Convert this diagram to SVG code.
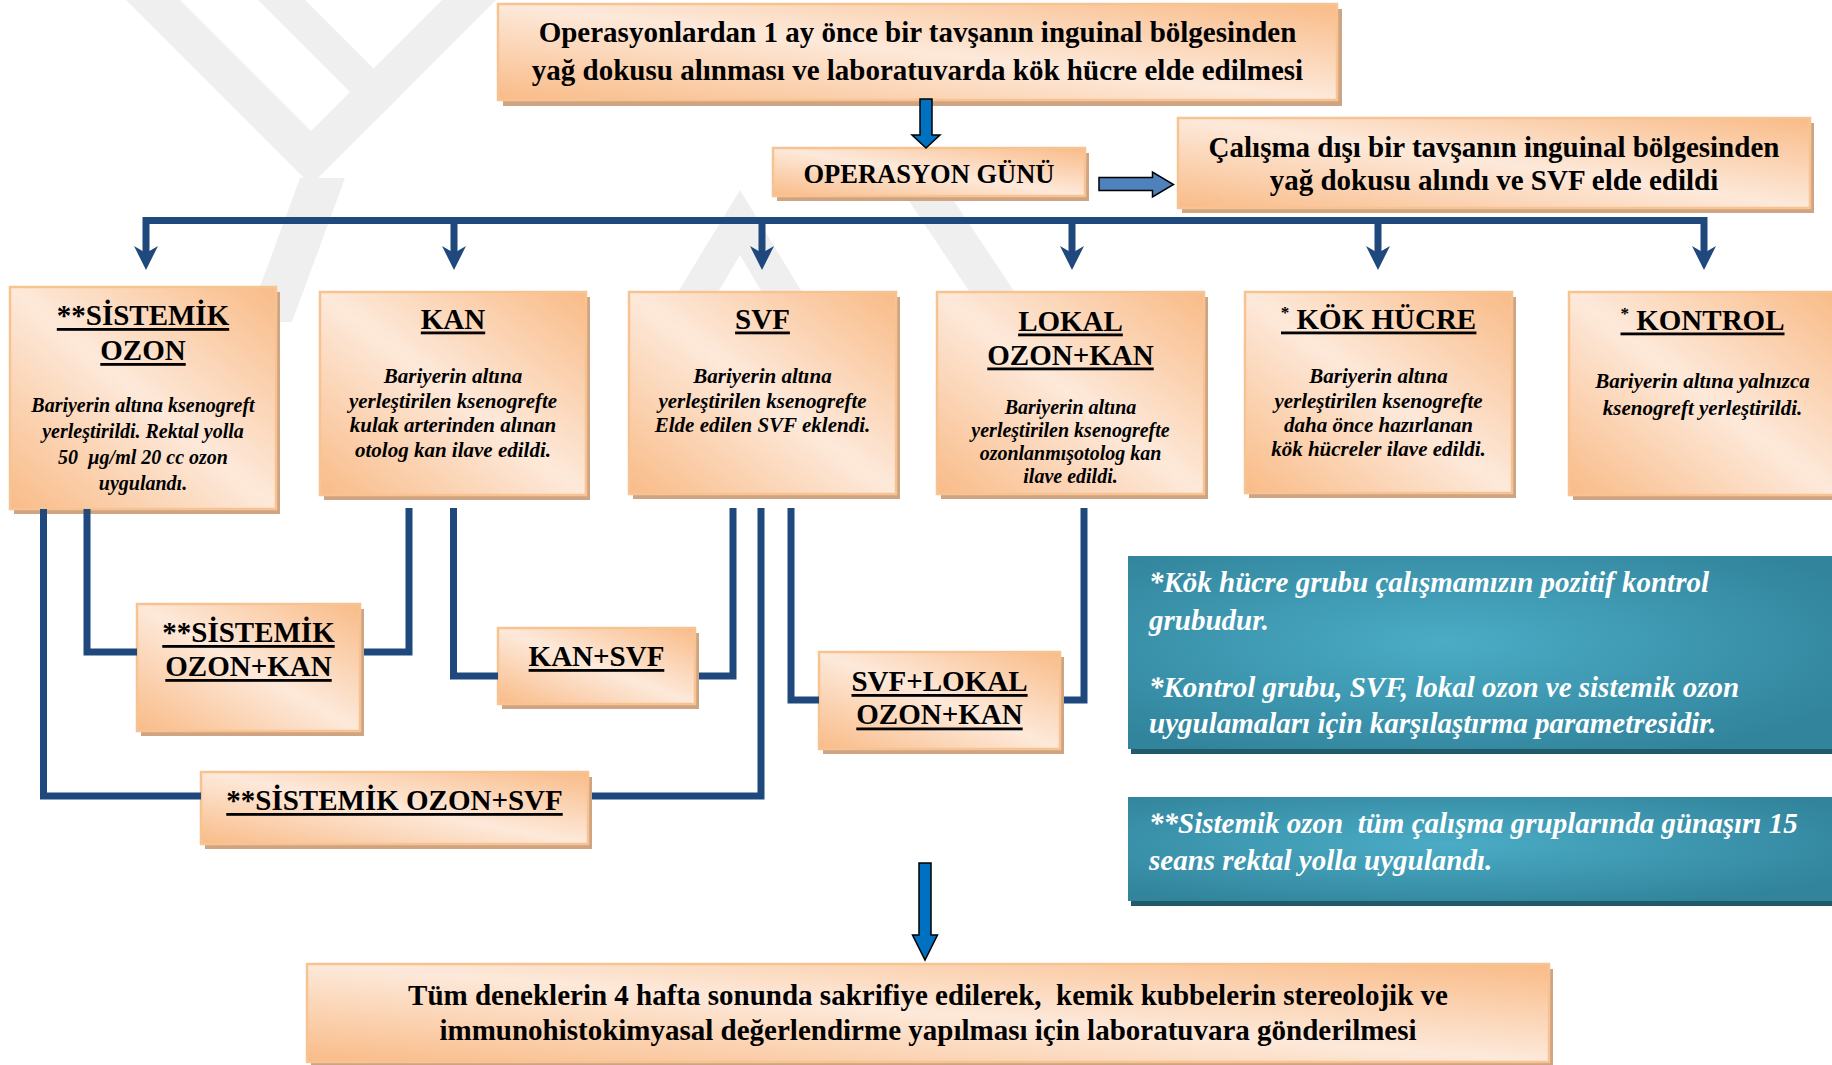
<svg xmlns="http://www.w3.org/2000/svg" width="1832" height="1065" viewBox="0 0 1832 1065">
<defs>
<linearGradient id="og" x1="0" y1="1" x2="1" y2="0">
<stop offset="0" stop-color="#f9bb87"/>
<stop offset="0.5" stop-color="#fde9da"/>
<stop offset="1" stop-color="#f9bb87"/>
</linearGradient>
<radialGradient id="tg" cx="0.45" cy="0.45" r="0.65">
<stop offset="0" stop-color="#4bacc6"/>
<stop offset="1" stop-color="#31849b"/>
</radialGradient>
<style>
.wm{fill:#efefef}
.sh{fill:#cfa482}
.bx{fill:url(#og);stroke:#f8c393;stroke-width:2.5}
.t{font-family:"Liberation Serif","Times New Roman",serif;font-weight:bold;fill:#000}
.h{font-size:29px;text-anchor:middle}
.b{font-style:italic;font-size:21px;text-anchor:middle}
.s20{font-size:20px}
.ul{fill:#000}
.ln{fill:none;stroke:#1f497d;stroke-width:7}
.ah{fill:#1f497d}
.tsh{fill:#215a69}
.tb{fill:url(#tg)}
.nt{font-family:"Liberation Serif","Times New Roman",serif;font-weight:bold;font-style:italic;font-size:29px;fill:#fff}
.ba{stroke:#000;stroke-width:1.5}
</style>
</defs>
<rect x="0" y="0" width="1832" height="1065" fill="#fff"/>

<g id="watermark">
<polygon class="wm" points="126,0 180,0 311,131 442,0 496,0 311,185"/>
<polygon class="wm" points="258,0 305,0 400.5,95.5 377,119"/>
<polygon class="wm" points="300,178 345,178 292,322 247,322"/>
<polygon class="wm" points="740,190 802,292 762,292 740,255 718,292 678,292"/>
<polygon class="wm" points="905,195 950,195 1020,300 975,300"/>
</g>

<g id="n-top">
<rect class="sh" x="503" y="9" width="839" height="97"/>
<rect class="bx" x="498" y="4" width="839" height="96"/>
<text class="t h" x="917.5" y="42">Operasyonlardan 1 ay önce bir tavşanın inguinal bölgesinden</text>
<text class="t h" x="917.5" y="80">yağ dokusu alınması ve laboratuvarda kök hücre elde edilmesi</text>
</g>

<g id="n-opday">
<rect class="sh" x="777" y="153" width="312" height="48"/>
<rect class="bx" x="773" y="148" width="312" height="48"/>
<text class="t" x="929" y="183" font-size="26.5" text-anchor="middle">OPERASYON GÜNÜ</text>
</g>

<g id="n-svfsrc">
<rect class="sh" x="1182" y="123" width="632" height="90"/>
<rect class="bx" x="1178" y="118" width="632" height="90"/>
<text class="t h" x="1494" y="157">Çalışma dışı bir tavşanın inguinal bölgesinden</text>
<text class="t h" x="1494" y="190">yağ dokusu alındı ve SVF elde edildi</text>
</g>

<g id="n-sistemik">
<rect class="sh" x="14" y="292" width="266" height="222"/>
<rect class="bx" x="10" y="287" width="266" height="222"/>
<text class="t h" x="143" y="325">**SİSTEMİK</text>
<rect class="ul" x="56.8" y="328" width="172.4" height="2.8"/>
<text class="t h" x="143" y="360">OZON</text>
<rect class="ul" x="100.3" y="363" width="85.4" height="2.8"/>
<text class="t b s20" x="143" y="412">Bariyerin altına ksenogreft</text>
<text class="t b s20" x="143" y="438">yerleştirildi. Rektal yolla</text>
<text class="t b s20" x="143" y="464" xml:space="preserve">50  µg/ml 20 cc ozon</text>
<text class="t b s20" x="143" y="490">uygulandı.</text>
</g>

<g id="n-kan">
<rect class="sh" x="324" y="297" width="266" height="203"/>
<rect class="bx" x="320" y="292" width="266" height="203"/>
<text class="t h" x="453" y="329">KAN</text>
<rect class="ul" x="420.8" y="331.5" width="64.4" height="2.8"/>
<text class="t b" x="453" y="383">Bariyerin altına</text>
<text class="t b" x="453" y="408">yerleştirilen ksenogrefte</text>
<text class="t b" x="453" y="432">kulak arterinden alınan</text>
<text class="t b" x="453" y="457">otolog kan ilave edildi.</text>
</g>

<g id="n-svf">
<rect class="sh" x="633" y="297" width="267" height="202"/>
<rect class="bx" x="629" y="292" width="267" height="202"/>
<text class="t h" x="762.5" y="329">SVF</text>
<rect class="ul" x="735.1" y="331.5" width="54.8" height="2.8"/>
<text class="t b" x="762.5" y="383">Bariyerin altına</text>
<text class="t b" x="762.5" y="408">yerleştirilen ksenogrefte</text>
<text class="t b" x="762.5" y="432">Elde edilen SVF eklendi.</text>
</g>

<g id="n-lokal">
<rect class="sh" x="941" y="297" width="267" height="202"/>
<rect class="bx" x="937" y="292" width="267" height="202"/>
<text class="t h" x="1070.5" y="331">LOKAL</text>
<rect class="ul" x="1018.1" y="333.5" width="104.7" height="2.8"/>
<text class="t h" x="1070.5" y="365">OZON+KAN</text>
<rect class="ul" x="987.3" y="367.5" width="166.4" height="2.8"/>
<text class="t b s20" x="1070.5" y="414">Bariyerin altına</text>
<text class="t b s20" x="1070.5" y="437">yerleştirilen ksenogrefte</text>
<text class="t b s20" x="1070.5" y="460">ozonlanmışotolog kan</text>
<text class="t b s20" x="1070.5" y="483">ilave edildi.</text>
</g>

<g id="n-kok">
<rect class="sh" x="1249" y="297" width="267" height="201"/>
<rect class="bx" x="1245" y="292" width="267" height="201"/>
<text class="t h" x="1378.5" y="329"><tspan font-size="17" dy="-11">*</tspan><tspan dy="11"> KÖK HÜCRE</tspan></text>
<rect class="ul" x="1281" y="331.5" width="195.4" height="2.8"/>
<text class="t b" x="1378.5" y="383">Bariyerin altına</text>
<text class="t b" x="1378.5" y="408">yerleştirilen ksenogrefte</text>
<text class="t b" x="1378.5" y="432">daha önce hazırlanan</text>
<text class="t b" x="1378.5" y="456">kök hücreler ilave edildi.</text>
</g>

<g id="n-kontrol">
<rect class="sh" x="1573" y="297" width="267" height="203"/>
<rect class="bx" x="1569" y="292" width="267" height="203"/>
<text class="t h" x="1702.5" y="330"><tspan font-size="17" dy="-11">*</tspan><tspan dy="11"> KONTROL</tspan></text>
<rect class="ul" x="1620.5" y="332.5" width="164" height="2.8"/>
<text class="t b" x="1702.5" y="388">Bariyerin altına yalnızca</text>
<text class="t b" x="1702.5" y="415">ksenogreft yerleştirildi.</text>
</g>

<g id="n-ozonkan">
<rect class="sh" x="141" y="609" width="223" height="127"/>
<rect class="bx" x="137" y="604" width="223" height="127"/>
<text class="t h" x="248.5" y="642">**SİSTEMİK</text>
<rect class="ul" x="162.3" y="645" width="172.4" height="2.8"/>
<text class="t h" x="248.5" y="676">OZON+KAN</text>
<rect class="ul" x="165.3" y="679" width="166.4" height="2.8"/>
</g>

<g id="n-kansvf">
<rect class="sh" x="502" y="633" width="197" height="76"/>
<rect class="bx" x="498" y="628" width="197" height="76"/>
<text class="t h" x="596.5" y="666">KAN+SVF</text>
<rect class="ul" x="528.6" y="669" width="135.7" height="2.8"/>
</g>

<g id="n-svflokal">
<rect class="sh" x="823" y="657" width="241" height="97"/>
<rect class="bx" x="819" y="652" width="241" height="97"/>
<text class="t h" x="939.5" y="691">SVF+LOKAL</text>
<rect class="ul" x="851.5" y="694" width="176.1" height="2.8"/>
<text class="t h" x="939.5" y="724">OZON+KAN</text>
<rect class="ul" x="856.3" y="727.5" width="166.4" height="2.8"/>
</g>

<g id="n-ozonsvf">
<rect class="sh" x="205" y="777" width="387" height="72"/>
<rect class="bx" x="201" y="772" width="387" height="72"/>
<text class="t h" x="394.5" y="810">**SİSTEMİK OZON+SVF</text>
<rect class="ul" x="226.3" y="813" width="336.4" height="2.8"/>
</g>

<g id="n-note1">
<rect class="tsh" x="1131" y="561" width="705" height="193"/>
<rect class="tb" x="1128" y="556" width="705" height="193"/>
<text class="nt" x="1149" y="592">*Kök hücre grubu çalışmamızın pozitif kontrol</text>
<text class="nt" x="1149" y="630">grubudur.</text>
<text class="nt" x="1149" y="697">*Kontrol grubu, SVF, lokal ozon ve sistemik ozon</text>
<text class="nt" x="1149" y="733">uygulamaları için karşılaştırma parametresidir.</text>
</g>

<g id="n-note2">
<rect class="tsh" x="1131" y="802" width="705" height="104"/>
<rect class="tb" x="1128" y="797" width="705" height="104"/>
<text class="nt" x="1149" y="833" xml:space="preserve">**Sistemik ozon  tüm çalışma gruplarında günaşırı 15</text>
<text class="nt" x="1149" y="870">seans rektal yolla uygulandı.</text>
</g>

<g id="n-final">
<rect class="sh" x="311" y="969" width="1242" height="98"/>
<rect class="bx" x="307" y="964" width="1242" height="98"/>
<text class="t h" x="928" y="1005" xml:space="preserve">Tüm deneklerin 4 hafta sonunda sakrifiye edilerek,  kemik kubbelerin stereolojik ve</text>
<text class="t h" x="928" y="1040">immunohistokimyasal değerlendirme yapılması için laboratuvara gönderilmesi</text>
</g>

<g id="connectors">
<path class="ln" d="M146 254V220.5H1704V254M454 220.5V254M762 220.5V254M1072 220.5V254M1378 220.5V254"/>
<path class="ah" d="M134 246L146 253L158 246L146 270Z"/>
<path class="ah" d="M442 246L454 253L466 246L454 270Z"/>
<path class="ah" d="M750 246L762 253L774 246L762 270Z"/>
<path class="ah" d="M1060 246L1072 253L1084 246L1072 270Z"/>
<path class="ah" d="M1366 246L1378 253L1390 246L1378 270Z"/>
<path class="ah" d="M1692 246L1704 253L1716 246L1704 270Z"/>
<path class="ln" d="M43.5 509V796H201"/>
<path class="ln" d="M592 796H761V508"/>
<path class="ln" d="M87 509V652H137"/>
<path class="ln" d="M364 652H409V508"/>
<path class="ln" d="M453.5 508V676H498"/>
<path class="ln" d="M699 676H733V508"/>
<path class="ln" d="M791 508V700H819"/>
<path class="ln" d="M1064 700H1084V508"/>
<path class="ba" fill="#0070c0" d="M920 99H932V135H940L926 148L912 135H920Z"/>
<path class="ba" fill="#4f81bd" stroke-width="2" d="M1099 177.5H1152.5V172L1173.5 184.5L1152.5 197V190.5H1099Z"/>
<path class="ba" fill="#0070c0" d="M919 863H931V935H937.5L925 960L912.5 935H919Z"/>
</g>
</svg>
